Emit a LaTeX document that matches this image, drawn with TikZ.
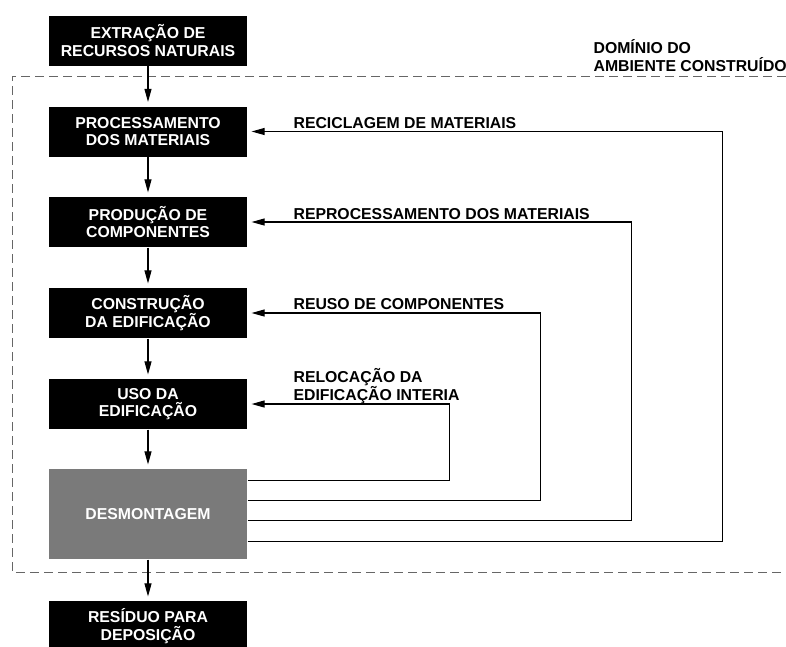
\documentclass[tikz,border=0pt]{standalone}
\usepackage{fontspec}
\setmainfont{Liberation Sans}
\usetikzlibrary{positioning,arrows.meta}

\begin{document}
\begin{tikzpicture}[
    x=1pt, y=-1pt, line width=1.2pt,
    % --- box styles ---
    box/.style={fill=black, text=white, minimum width=198pt, minimum height=50pt,
                align=center, font=\fontsize{15.8}{17.5}\selectfont\bfseries, inner sep=2pt},
    graybox/.style={box, fill=black!52, minimum height=90pt},
    % --- arrow styles ---
    arr/.style={-{Triangle[length=13pt,width=7pt]}, line width=1.1pt, shorten >=4pt},
    % --- label style ---
    lbl/.style={font=\fontsize{15.8}{17.8}\selectfont\bfseries, align=left, inner sep=0pt},
    % --- domain border ---
    dom/.style={black!60, line width=0.9pt, dash pattern=on 9pt off 5pt},
]
\useasboundingbox (0,0) rectangle (786,646);

%% =====================================================================
%%  COORDINATES (pt, y downward)
%%  Column centre: x = 148   |   box rows: 40.5, 131.5, 222, 313, 404
%%  Return lanes: x = 448 | 539 | 630 | 721
%% =====================================================================

%% ---- DOMAIN OF THE BUILT ENVIRONMENT (open to the right) ----
\draw[dom] (786,76) -- (12,76) -- (12,572) -- (786,572);
\node[lbl, anchor=base west] (domlbl) at (593,71)
    {DOMÍNIO DO\\AMBIENTE CONSTRUÍDO};

%% ---- MAIN CHAIN ----
\node[box] (extr) at (148,40.5)  {EXTRAÇÃO DE\\RECURSOS NATURAIS};
\node[box] (proc) at (148,131.5) {PROCESSAMENTO\\DOS MATERIAIS};
\node[box] (prod) at (148,222)   {PRODUÇÃO DE\\COMPONENTES};
\node[box] (cons) at (148,313)   {CONSTRUÇÃO\\DA EDIFICAÇÃO};
\node[box] (uso)  at (148,404)   {USO DA\\EDIFICAÇÃO};
\node[graybox] (desm) at (148,514) {DESMONTAGEM};
\node[box] (resd) at (148,626)   {RESÍDUO PARA\\DEPOSIÇÃO};

%% --- downward flow ---
\draw[arr] (extr.south) -- (proc.north);
\draw[arr] (proc.south) -- (prod.north);
\draw[arr] (prod.south) -- (cons.north);
\draw[arr] (cons.south) -- (uso.north);
\draw[arr] (uso.south)  -- (desm.north);
\draw[arr] (desm.south) -- (resd.north);

%% =====================================================================
%%  RETURN LOOPS (from DESMONTAGEM back up the chain)
%% =====================================================================
\draw[arr] ([yshift=-12pt]desm.north east) -- ++(202,0) |- (uso.east);
\draw[arr] ([yshift=-32.5pt]desm.north east) -- ++(293,0) |- (cons.east);
\draw[arr] ([yshift=-52.5pt]desm.north east) -- ++(384,0) |- (prod.east);
\draw[arr] ([yshift=-73pt]desm.north east) -- ++(475,0) |- (proc.east);

%% ---- LOOP LABELS ----
\node[lbl, anchor=base west] (lrec) at (293,128.5) {RECICLAGEM DE MATERIAIS};
\node[lbl, anchor=base west] (lrep) at (293,219)   {REPROCESSAMENTO DOS MATERIAIS};
\node[lbl, anchor=base west] (lreu) at (293,309.5) {REUSO DE COMPONENTES};
\node[lbl, anchor=base west] (lrel) at (293,400.5) {RELOCAÇÃO DA\\EDIFICAÇÃO INTERIA};

\end{tikzpicture}
\end{document}
